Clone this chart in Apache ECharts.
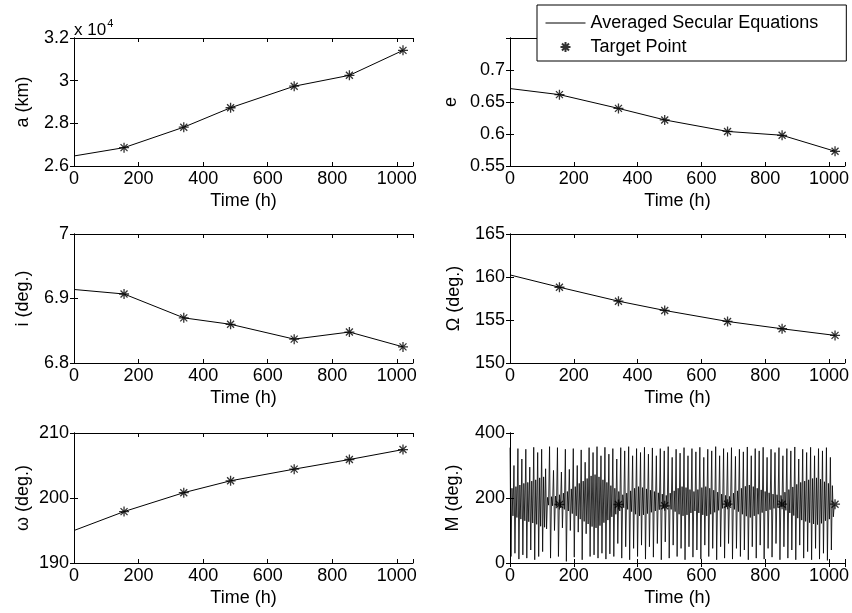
<!DOCTYPE html>
<html>
<head>
<meta charset="utf-8">
<script src="https://cdn.jsdelivr.net/npm/echarts@6/dist/echarts.min.js"></script>
<style>
html,body{margin:0;padding:0;background:#fff;}
#c{width:852px;height:613px;}
</style>
</head>
<body>
<div id="c"></div>
<script>
// ---------------- data ----------------
const T_TARGET = [155, 340, 485, 682, 853, 1019];   // target times (h)
const T_START = 0;

const A_START = 26470;                                  // km
const A_TARGET = [26860, 27820, 28730, 29740, 30250, 31420];
const E_START = 0.671;
const E_TARGET = [0.6615, 0.640, 0.622, 0.604, 0.598, 0.573];
const I_START = 6.914;
const I_TARGET = [6.907, 6.870, 6.860, 6.837, 6.848, 6.825];
const RAAN_START = 160.24;
const RAAN_TARGET = [158.81, 157.19, 156.11, 154.83, 153.98, 153.21];
const W_START = 195.0;
const W_TARGET = [197.91, 200.82, 202.65, 204.44, 205.92, 207.45];
const M_TARGET = [180, 180, 176, 181, 181, 181];

// mean anomaly samples (deg), one sample every M_STEP hours
const M_STEP = 3.1;
const M_VALUES = [
355,20,230,145, 300,30,235,140, 352,12,240,135, 320,25,245,130, 350,15,248,127,
295,40,252,123, 356,10,256,119, 340,20,262,113, 350,35,265,110, 290,105,202,178,
358,15,204,176, 285,100,206,174, 355,20,210,170, 280,108,215,165, 350,5,220,160,
288,100,228,152, 352,18,235,145, 300,95,245,135, 348,10,252,128, 310,90,260,120,
355,20,268,112, 340,25,272,108, 358,15,265,115, 330,30,256,124, 356,12,248,132,
335,28,238,142, 352,20,230,150, 320,60,220,160, 355,15,210,170, 345,50,215,165,
358,10,222,158, 330,45,230,150, 352,20,235,145, 340,55,232,148, 356,12,228,152,
335,50,224,156, 354,18,220,160, 330,60,216,164, 352,10,212,168, 345,65,208,172,
358,15,215,165, 325,55,222,158, 350,20,230,150, 338,45,235,145, 355,10,232,148,
330,50,226,154, 352,18,220,160, 342,40,226,154, 356,12,232,148, 325,55,235,145,
350,20,230,150, 345,45,224,156, 358,10,218,162, 330,50,212,168, 352,15,208,172,
340,60,205,175, 355,12,215,165, 328,45,222,158, 350,20,230,150, 342,40,236,144,
357,10,240,140, 330,50,235,145, 352,15,230,150, 345,55,225,155, 356,12,220,160,
325,45,216,164, 350,18,212,168, 340,60,210,170, 355,10,208,172, 330,50,218,162,
352,15,226,154, 345,40,234,146, 357,10,242,138, 320,55,248,132, 350,15,252,128,
340,35,256,124, 356,10,260,120, 330,45,262,118, 352,12,258,122, 345,30,250,130,
355,8,245,135, 325,40,238,142, 180
];

// axis ticks
const X_MIN = 0, X_MAX = 1050, X_INT = 200;
const Y_AXES = [
  {name: 'a (km)',   min: 26000, max: 32000, interval: 2000, div: 1e4, gap: 42},
  {name: 'e',        min: 0.55,  max: 0.75,  interval: 0.05, div: 1, gap: 50, hide: 0.75},
  {name: 'i (deg.)', min: 6.8,   max: 7.0,   interval: 0.1,  div: 1, gap: 42},
  {name: 'Ω (deg.)', min: 150,   max: 165,   interval: 5,    div: 1, gap: 47},
  {name: 'ω (deg.)', min: 190,   max: 210,   interval: 10,   div: 1, gap: 42},
  {name: 'M (deg.)', min: 0,     max: 400,   interval: 200,  div: 1, gap: 48}
];

// ---------------- build ----------------
const FONT = 'Liberation Sans, Arial, Helvetica, sans-serif';
const LINE_NAME = 'Averaged Secular Equations';
const STAR_NAME = 'Target Point';
const STAR = 'path://M10,0L10,20M0,10L20,10M3,3L17,17M3,17L17,3';

const GRIDS = [
  {left: 74,  top: 38,  width: 339, height: 128},
  {left: 510, top: 38,  width: 337, height: 128},
  {left: 74,  top: 234, width: 339, height: 129},
  {left: 510, top: 234, width: 337, height: 129},
  {left: 74,  top: 433, width: 339, height: 130},
  {left: 510, top: 433, width: 337, height: 130}
];

const starts = [A_START, E_START, I_START, RAAN_START, W_START, null];
const targets = [A_TARGET, E_TARGET, I_TARGET, RAAN_TARGET, W_TARGET, M_TARGET];

const xAxis = [], yAxis = [], series = [];
const axLine = {show: true, lineStyle: {color: '#000', width: 1}};
const tickIn = {show: true, inside: true, length: 4, lineStyle: {color: '#000', width: 1}};

GRIDS.forEach((g, k) => {
  const ya = Y_AXES[k];
  xAxis.push({
    type: 'value', gridIndex: k, min: X_MIN, max: X_MAX, interval: X_INT,
    position: 'bottom',
    name: 'Time (h)', nameLocation: 'middle', nameGap: 26,
    nameTextStyle: {fontFamily: FONT, fontSize: 18, color: '#000'},
    axisLine: axLine, axisTick: tickIn, splitLine: {show: false},
    axisLabel: {
      fontFamily: FONT, fontSize: 18, color: '#000', margin: 4,
      formatter: v => (Math.abs(v % X_INT) < 1e-9 ? String(v) : '')
    }
  });
  xAxis.push({
    type: 'value', gridIndex: k, min: X_MIN, max: X_MAX, interval: X_INT,
    position: 'top', axisLine: axLine, axisTick: tickIn,
    axisLabel: {show: false}, splitLine: {show: false}
  });
  yAxis.push({
    type: 'value', gridIndex: k, min: ya.min, max: ya.max, interval: ya.interval,
    position: 'left',
    name: ya.name, nameLocation: 'middle', nameGap: ya.gap, nameRotate: 90,
    nameTextStyle: {fontFamily: FONT, fontSize: 18, color: '#000'},
    axisLine: axLine, axisTick: tickIn, splitLine: {show: false},
    axisLabel: {
      fontFamily: FONT, fontSize: 18, color: '#000', margin: 5,
      formatter: v => {
        if (ya.hide !== undefined && Math.abs(v - ya.hide) < 1e-9) return '';
        return String(parseFloat((v / ya.div).toFixed(4)));
      }
    }
  });
  yAxis.push({
    type: 'value', gridIndex: k, min: ya.min, max: ya.max, interval: ya.interval,
    position: 'right', axisLine: axLine, axisTick: tickIn,
    axisLabel: {show: false}, splitLine: {show: false}
  });

  let lineData;
  if (k === 5) {
    lineData = M_VALUES.map((v, i) => [i * M_STEP, v]);
  } else {
    lineData = [[T_START, starts[k]]].concat(T_TARGET.map((t, i) => [t, targets[k][i]]));
  }
  series.push({
    type: 'line', name: LINE_NAME, xAxisIndex: 2 * k, yAxisIndex: 2 * k,
    data: lineData, symbol: 'none', showSymbol: false,
    lineStyle: {color: '#000', width: k === 5 ? 0.8 : 1},
    itemStyle: {color: '#000'}, z: 2
  });
  series.push({
    type: 'scatter', name: STAR_NAME, xAxisIndex: 2 * k, yAxisIndex: 2 * k,
    data: T_TARGET.map((t, i) => [t, targets[k][i]]),
    symbol: STAR, symbolSize: 10,
    itemStyle: {color: 'rgba(0,0,0,0)', borderColor: '#000', borderWidth: 1.3},
    z: 3
  });
});

const option = {
  backgroundColor: '#fff',
  animation: false,
  grid: GRIDS.map(g => Object.assign({containLabel: false, show: false}, g)),
  legend: {
    show: true,
    left: 537, top: 5,
    orient: 'vertical',
    backgroundColor: '#fff', borderColor: '#000', borderWidth: 1,
    padding: [9, 28, 5, 8],
    itemWidth: 40, itemHeight: 10, itemGap: 6,
    selectedMode: false,
    textStyle: {fontFamily: FONT, fontSize: 18, color: '#000'},
    data: [
      {name: LINE_NAME, itemStyle: {opacity: 0}, lineStyle: {color: '#000', width: 1, opacity: 1}},
      STAR_NAME
    ]
  },
  xAxis, yAxis, series,
  graphic: [{
    type: 'text', left: 74, top: 18,
    style: {
      text: '{b|x 10}{s|4}',
      rich: {
        b: {fontFamily: FONT, fontSize: 17, fill: '#000', verticalAlign: 'bottom'},
        s: {fontFamily: FONT, fontSize: 11, fill: '#000', verticalAlign: 'top', padding: [0, 0, 10, 1]}
      }
    }
  }]
};

const chart = echarts.init(document.getElementById('c'), null, {renderer: 'canvas'});
chart.setOption(option);
</script>
</body>
</html>
